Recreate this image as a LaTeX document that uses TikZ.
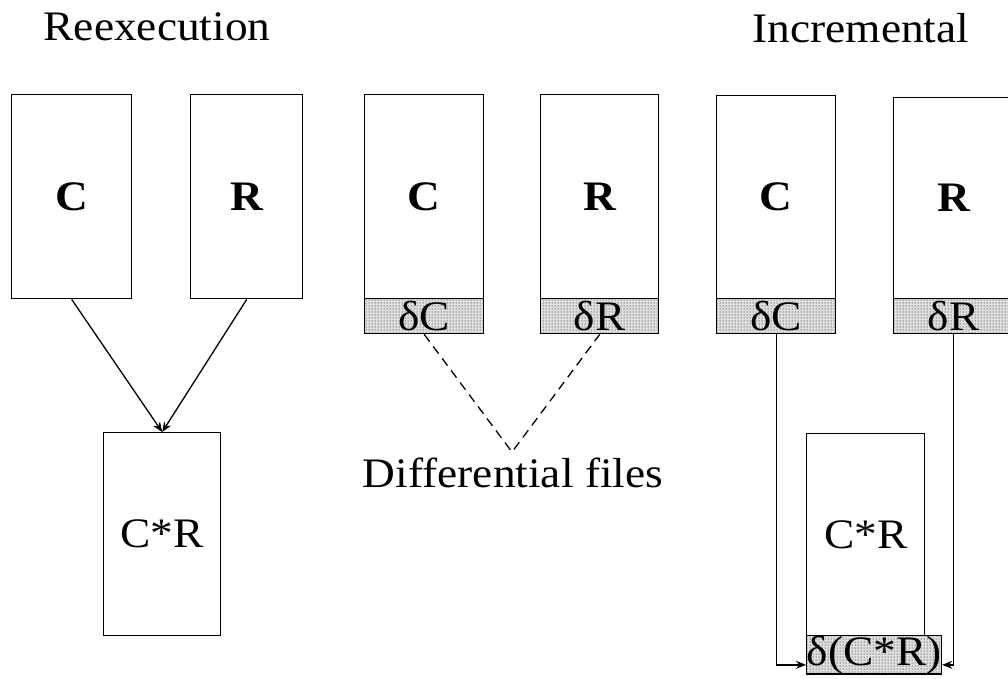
\documentclass[tikz,border=0pt]{standalone}
\usepackage{fontspec}
\setmainfont{Liberation Serif}[FakeStretch=1.08]
\usetikzlibrary{positioning,arrows.meta,patterns}

\begin{document}
\begin{tikzpicture}[x=1pt, y=-1pt, font=\fontsize{42}{48}\selectfont]
    \tikzset{
      file/.style = {rectangle, draw=black, line width=1.4pt, inner sep=0pt, anchor=north west},
      delta/.style = {rectangle, draw=black, line width=1.4pt, preaction={fill=gray!25}, pattern=dots, inner sep=0pt, anchor=north west, minimum height=35pt},
      arrow/.style = {line width=1.3pt, -{Stealth[length=10pt,width=8pt]}},
      link/.style = {line width=1.3pt, dash pattern=on 9pt off 6pt}
    }
    \useasboundingbox (0,0) rectangle (1008,678);

    % titles
    \node (title_re) [anchor=base] at (157,40) {Reexecution};
    \node (title_inc) [anchor=base] at (861,42) {Incremental};

    % reexecution
    \node (c_re) [file, minimum width=120pt, minimum height=204pt] at (11,94) {\textbf{C}};
    \node (r_re) [file, minimum width=112pt, minimum height=204pt] at (190,94) {\textbf{R}};
    \node (cr_re) [file, minimum width=117pt, minimum height=203pt] at (103,432) {C*R};

    % differential files
    \node (c_diff) [file, minimum width=119pt, minimum height=204pt] at (364,94) {\textbf{C}};
    \node (dc_diff) [delta, minimum width=119pt] at (364,298) {δC};
    \node (r_diff) [file, minimum width=118pt, minimum height=204pt] at (540,94) {\textbf{R}};
    \node (dr_diff) [delta, minimum width=118pt] at (540,298) {δR};
    \coordinate (apex) at (512,452);
    \node (diff_lbl) [anchor=base] at (513,487) {Differential files};

    % incremental
    \node (c_inc) [file, minimum width=119pt, minimum height=203pt] at (716,95) {\textbf{C}};
    \node (dc_inc) [delta, minimum width=119pt] at (716,298) {δC};
    \node (r_inc) [file, minimum width=120pt, minimum height=201pt] at (893,97) {\textbf{R}};
    \node (dr_inc) [delta, minimum width=120pt] at (893,298) {δR};
    \node (cr_inc) [file, minimum width=118pt, minimum height=202pt] at (806,433) {C*R};
    \node (dcr_inc) [delta, minimum width=118pt, minimum height=33pt] at (806,635) {δ(C*R)};

    \draw [arrow] (c_re.south) -- (cr_re.north);
    \draw [arrow] (r_re.south) -- (cr_re.north);
    \draw [link] (dc_diff.south) -- (apex) -- (dr_diff.south);
    \draw [arrow] (dc_inc.south) |- ([yshift=-10pt]dcr_inc.west);
    \draw [arrow] (dr_inc.south) |- ([yshift=-10pt]dcr_inc.east);
\end{tikzpicture}
\end{document}
